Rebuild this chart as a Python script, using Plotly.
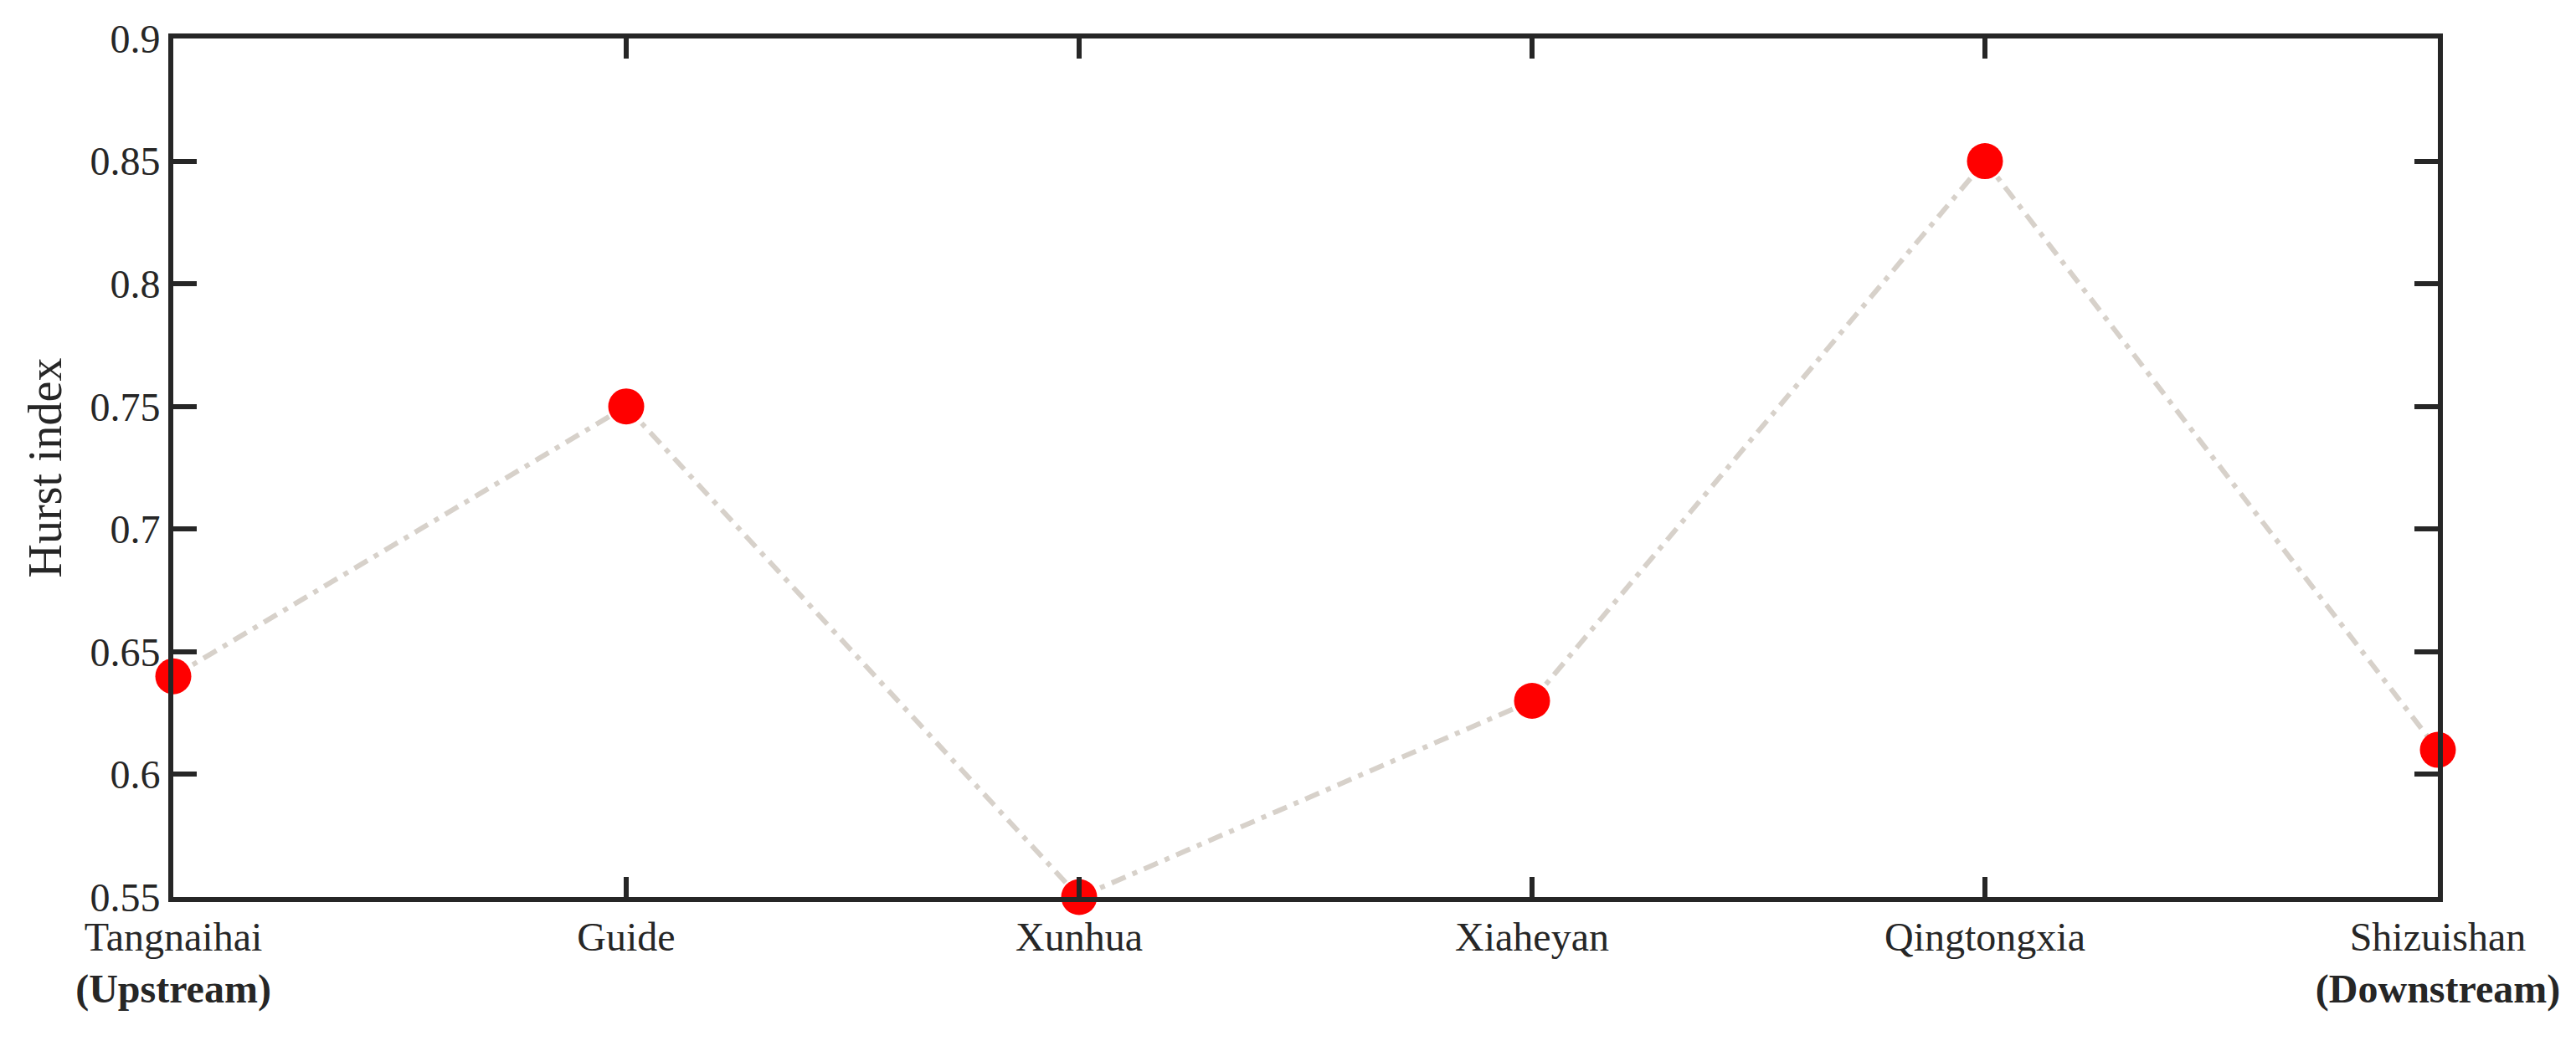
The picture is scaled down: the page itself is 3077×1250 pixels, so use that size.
import plotly.graph_objects as go

stations = ['Tangnaihai', 'Guide', 'Xunhua', 'Xiaheyan', 'Qingtongxia', 'Shizuishan']
hurst = [0.64, 0.75, 0.55, 0.63, 0.85, 0.61]
tick_labels = [
    'Tangnaihai<br><b>(Upstream)</b>',
    'Guide',
    'Xunhua',
    'Xiaheyan',
    'Qingtongxia',
    'Shizuishan<br><b>(Downstream)</b>',
]
y_ticks = [0.55, 0.6, 0.65, 0.7, 0.75, 0.8, 0.85, 0.9]

font_family = 'Liberation Serif, Times New Roman, serif'

fig = go.Figure(go.Scatter(
    x=stations,
    y=hurst,
    mode='lines+markers',
    line=dict(color='#d7d1ca', width=6, dash='18px,9px,6px,9px'),
    marker=dict(color='#ff0000', size=43),
    cliponaxis=False,
    showlegend=False,
))

axis_common = dict(
    showline=True,
    linecolor='#262626',
    linewidth=6,
    mirror='ticks',
    ticks='inside',
    tickcolor='#262626',
    tickwidth=6,
    showgrid=False,
    zeroline=False,
    tickfont=dict(family=font_family, size=48, color='#262626'),
)

fig.update_xaxes(
    **axis_common,
    tickmode='array',
    tickvals=stations,
    ticktext=tick_labels,
    ticklen=24,
    range=[0, 5],
)
fig.update_yaxes(
    **axis_common,
    tickvals=y_ticks,
    ticktext=[f'{v:g}' for v in y_ticks],
    ticklen=28,
    range=[0.55, 0.9],
    title=dict(text='Hurst index', font=dict(family=font_family, size=56, color='#262626'), standoff=18),
)

# the page body adds 8px of offset, so margins are trimmed to match
fig.update_layout(
    width=3077,
    height=1250,
    margin=dict(l=199, r=173, t=36, b=186),
    plot_bgcolor='white',
    paper_bgcolor='white',
)

fig.write_html("out.html")
